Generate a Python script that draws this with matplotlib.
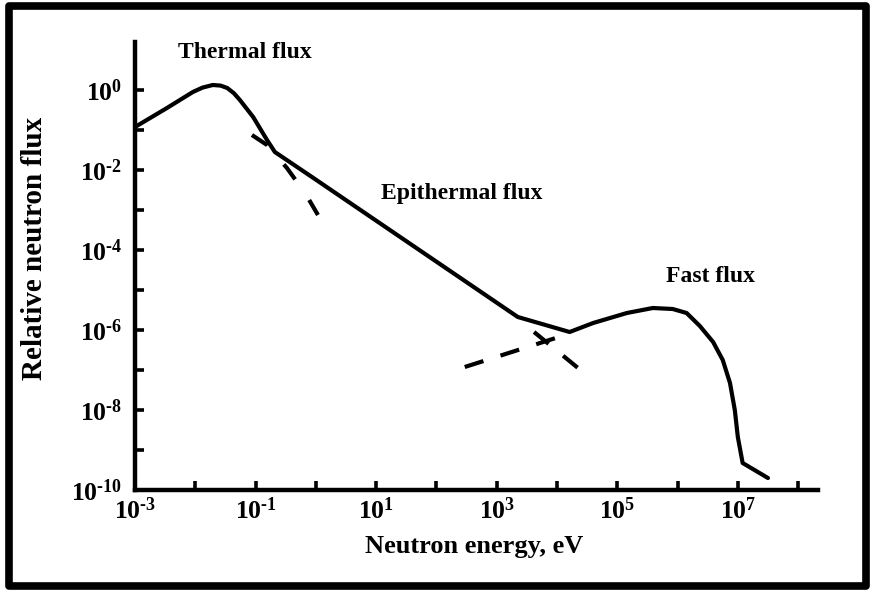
import numpy as np
import matplotlib.pyplot as plt
from matplotlib.patches import Rectangle
from matplotlib.ticker import FixedLocator, FuncFormatter

plt.rcParams['font.family'] = 'Liberation Serif'
plt.rcParams['font.weight'] = 'bold'
plt.rcParams['mathtext.fontset'] = 'custom'
plt.rcParams['mathtext.rm'] = 'Liberation Serif:bold'
plt.rcParams['mathtext.bf'] = 'Liberation Serif:bold'
plt.rcParams['mathtext.it'] = 'Liberation Serif:bold'
plt.rcParams['mathtext.default'] = 'bf'

# spectrum, as log10(E / eV) and log10(relative flux)
spec_logE = [-3.0, -2.47, -2.18, -2.04, -1.88, -1.71, -1.58, -1.47, -1.36, -1.26, -1.04,
             -0.81, -0.68, -0.05, 3.35, 4.21, 4.6, 5.16, 5.59, 5.92, 6.15, 6.37, 6.59,
             6.75, 6.87, 6.95, 7.0, 7.08, 7.5]
spec_logF = [-0.925, -0.45, -0.18, -0.05, 0.06, 0.125, 0.11, 0.05, -0.08, -0.25, -0.675,
             -1.25, -1.55, -2.19, -5.675, -6.05, -5.825, -5.575, -5.45, -5.475, -5.575, -5.9, -6.3,
             -6.75, -7.325, -8.0, -8.675, -9.325, -9.7]

# maxwellian tail beyond the joining point
therm_logE = [-1.06, -0.81, -0.48, -0.30, -0.13, 0.035]
therm_logF = [-1.125, -1.375, -1.95, -2.325, -2.7, -3.125]

# 1/E slope continued past the fast hump
epi_logE = [3.62, 4.41]
epi_logF = [-6.05, -7.025]

# fission spectrum continued below its hump
fast_logE = [2.47, 4.0]
fast_logF = [-6.925, -6.19]

x_ticks = list(range(-3, 9))
y_ticks = list(range(-10, 1))

def to_lin(a):
    return 10.0 ** np.array(a)

fig = plt.figure(figsize=(8.74, 5.91), dpi=100)
ax = fig.add_axes([135/874, 101/591, 683/874, 448/591])

ax.plot(to_lin(spec_logE), to_lin(spec_logF), color='black', lw=3.0,
        solid_joinstyle='round', solid_capstyle='round')
ax.plot(to_lin(therm_logE), to_lin(therm_logF), color='black', lw=3.0,
        dashes=(4.5, 6.0), dash_capstyle='butt')
ax.plot(to_lin(epi_logE), to_lin(epi_logF), color='black', lw=3.0,
        dashes=(4.5, 4.5), dash_capstyle='butt')
ax.plot(to_lin(fast_logE), to_lin(fast_logF), color='black', lw=3.0,
        dashes=(4.7, 4.3), dash_capstyle='butt')

ax.set_xscale('log')
ax.set_yscale('log')
ax.set_xlim(1e-3, 10 ** 8.33)
ax.set_ylim(1e-10, 10 ** 1.2)

ax.xaxis.set_major_locator(FixedLocator([10.0 ** k for k in x_ticks]))
ax.yaxis.set_major_locator(FixedLocator([10.0 ** k for k in y_ticks]))
ax.minorticks_off()

def sci(k):
    # plain hyphen for the exponent sign
    if k < 0:
        return r'$10^{\text{-}%d}$' % (-k)
    return r'$10^{%d}$' % k

def xfmt(v, pos):
    k = int(round(np.log10(v)))
    return sci(k) if k % 2 != 0 else ''

def yfmt(v, pos):
    k = int(round(np.log10(v)))
    return sci(k) if k % 2 == 0 else ''

ax.xaxis.set_major_formatter(FuncFormatter(xfmt))
ax.yaxis.set_major_formatter(FuncFormatter(yfmt))

for s in ['top', 'right']:
    ax.spines[s].set_visible(False)
for s in ['left', 'bottom']:
    ax.spines[s].set_linewidth(3.2)
ax.tick_params(direction='in', length=6.5, width=2.6, labelsize=18.5)
ax.tick_params(axis='x', pad=5)
ax.tick_params(axis='y', pad=9)

ax.set_xlabel('Neutron energy, eV', fontsize=19, fontweight='bold')
ax.xaxis.set_label_coords(0.497, -0.10)
ax.set_ylabel('Relative neutron flux', fontsize=21, fontweight='bold')
ax.yaxis.set_label_coords(-0.128, 0.54)

ax.text(10 ** -1.176, 10 ** 0.925, 'Thermal flux', fontsize=17, ha='center', va='center')
ax.text(10 ** 2.42, 10 ** -2.575, 'Epithermal flux', fontsize=17, ha='center', va='center')
ax.text(10 ** 6.55, 10 ** -4.675, 'Fast flux', fontsize=17, ha='center', va='center')

# frame around the whole figure
fig.patches.append(Rectangle((8.5/874, 5/591), 857/874, 580/591, transform=fig.transFigure,
                             fill=False, edgecolor='black', lw=5.5, joinstyle='round'))

fig.savefig('out.png', dpi=100)
